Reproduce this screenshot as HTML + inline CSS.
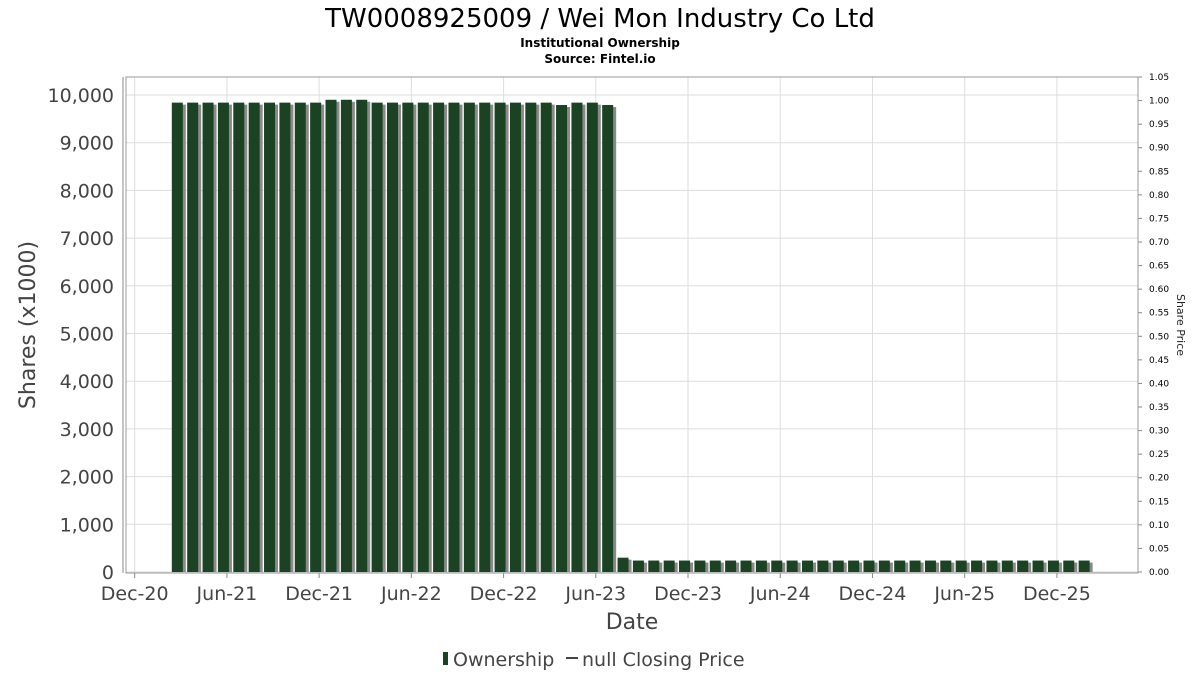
<!DOCTYPE html>
<html><head><meta charset="utf-8"><style>
body{margin:0;background:#fff;font-family:"DejaVu Sans","Liberation Sans",sans-serif;}
</style></head><body>
<svg id="c" width="1200" height="675" xmlns="http://www.w3.org/2000/svg">
<text x="600" y="27" text-anchor="middle" font-size="26" fill="#000">TW0008925009 / Wei Mon Industry Co Ltd</text>
<text x="600" y="47" text-anchor="middle" font-size="12" font-weight="bold">Institutional Ownership</text>
<text x="600" y="63" text-anchor="middle" font-size="12" font-weight="bold">Source: Fintel.io</text>
<g id="grid"></g><g id="bars"></g><g id="axes"></g>
<text transform="translate(35,325) rotate(-90)" text-anchor="middle" font-size="22" fill="#444">Shares (x1000)</text>
<text transform="translate(1177,325) rotate(90)" text-anchor="middle" font-size="11" fill="#222">Share Price</text>
<text x="632" y="629" text-anchor="middle" font-size="22" fill="#444">Date</text>
<g>
<rect x="443" y="652" width="5" height="13" fill="#1a4223"/>
<text x="453" y="666" font-size="19" fill="#444">Ownership</text>
<line x1="566" y1="658" x2="578" y2="658" stroke="#444" stroke-width="2"/>
<text x="582" y="666" font-size="19" fill="#444">null Closing Price</text>
</g>
</svg>
<script>
const values=[9840,9840,9840,9840,9840,9840,9840,9840,9840,9840,9900,9900,9900,9840,9840,9840,9840,9840,9840,9840,9840,9840,9840,9840,9840,9790,9840,9840,9790,300,
240,240,240,240,240,240,240,240,240,240,240,240,240,240,240,240,240,240,240,240,240,240,240,240,240,240,240,240,240,240];
const startMonth=3; // months after Dec-20
const xTickLabels=["Dec-20","Jun-21","Dec-21","Jun-22","Dec-22","Jun-23","Dec-23","Jun-24","Dec-24","Jun-25","Dec-25"];
const yTicks=[0,1000,2000,3000,4000,5000,6000,7000,8000,9000,10000];
const y2Ticks=[0,0.05,0.1,0.15,0.2,0.25,0.3,0.35,0.4,0.45,0.5,0.55,0.6,0.65,0.7,0.75,0.8,0.85,0.9,0.95,1.0,1.05];
const NS="http://www.w3.org/2000/svg";
const L=126,R=1138,T=77,B=573;
const x=m=>134.7+m*15.37;
const y=v=>572-v*0.0477;
const y2=v=>572-v*(572-77)/1.05;
function mk(tag,at,parent){const e=document.createElementNS(NS,tag);for(const k in at)e.setAttribute(k,at[k]);document.getElementById(parent).appendChild(e);return e;}
const gr='#ddd';
yTicks.forEach(v=>{
 let l=mk('line',{x1:L,x2:R,y1:y(v),y2:y(v),stroke:gr},'grid');
 
 
 let t=mk('text',{x:114,y:y(v)+7,'text-anchor':'end','font-size':19,fill:'#444'},'axes');t.textContent=v.toLocaleString('en-US');
 
 
});
xTickLabels.forEach((s,i)=>{
 const xx=x(i*6);
 let l=mk('line',{x1:xx,x2:xx,y1:T,y2:B,stroke:gr},'grid');
 
 
 mk('line',{x1:xx,x2:xx,y1:B,y2:B+5,stroke:'#888'},'axes');
 let t=mk('text',{x:xx,y:600,'text-anchor':'middle','font-size':19,fill:'#444'},'axes');t.textContent=s;
 
 
});
y2Ticks.forEach(v=>{
 mk('line',{x1:R,x2:R+4,y1:y2(v),y2:y2(v),stroke:'#888'},'axes');
 let t=mk('text',{x:R+11,y:y2(v)+3,'font-size':9,fill:'#000'},'axes');t.textContent=v.toFixed(2);
 
 
});
mk('rect',{x:L,y:T,width:R-L,height:B-T,fill:'none',stroke:'#999'},'axes');
mk('line',{x1:L-3,x2:L-3,y1:T,y2:B,stroke:'#888'},'axes');
values.forEach((v,i)=>{
 const xx=x(startMonth+i)-9;
 let s=mk('rect',{x:xx+3,y:y(v)+2,width:11,height:572-y(v)-2,fill:'#8a8a8a'},'bars');
 
 
 let b=mk('rect',{x:xx,y:y(v),width:11,height:572-y(v),fill:'#1a4223'},'bars');
 
 
});
</script>
</body></html>
